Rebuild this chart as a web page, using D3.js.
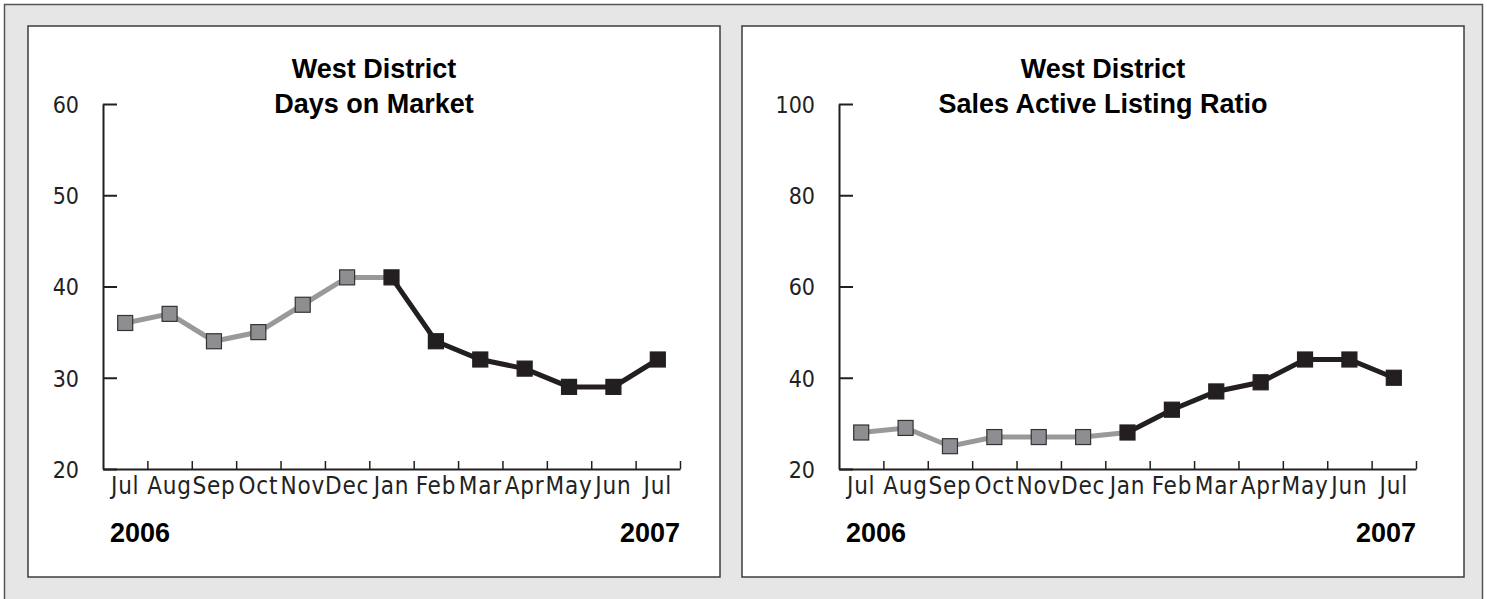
<!DOCTYPE html>
<html>
<head>
<meta charset="utf-8">
<script src="https://cdn.jsdelivr.net/npm/d3@7"></script>
<style>
  html, body { margin: 0; padding: 0; background: #ffffff; }
  svg { display: block; }
</style>
</head>
<body>
<svg id="chart" width="1487" height="599"></svg>
<script>
// ---- data ----
const months = ["Jul", "Aug", "Sep", "Oct", "Nov", "Dec", "Jan", "Feb", "Mar", "Apr", "May", "Jun", "Jul"];
const startYear = "2006";
const endYear = "2007";
const highlightStart = 6; // Jan 2007 onward drawn in black

const domTitle = ["West District", "Days on Market"];
const domValues = [36, 37, 34, 35, 38, 41, 41, 34, 32, 31, 29, 29, 32];
const domTicks = [20, 30, 40, 50, 60];

const salTitle = ["West District", "Sales Active Listing Ratio"];
const salValues = [28, 29, 25, 27, 27, 27, 28, 33, 37, 39, 44, 44, 40];
const salTicks = [20, 40, 60, 80, 100];

// ---- styling ----
const DARK = "#231f20";
const GREY_LINE = "#999999";
const GREY_FILL = "#8e8e92";
const LABEL_FONT = "'DejaVu Sans Condensed', 'DejaVu Sans', sans-serif";
const BOLD_FONT = "'Liberation Sans', Arial, sans-serif";

const svg = d3.select("#chart");

// outer frame
svg.append("rect")
  .attr("x", 4.5).attr("y", 4.5)
  .attr("width", 1478).attr("height", 600)
  .attr("fill", "#e6e6e6")
  .attr("stroke", "#555").attr("stroke-width", 1.5);

function drawPanel(panel) {
  const g = svg.append("g");
  // panel box
  g.append("rect")
    .attr("x", panel.px).attr("y", panel.py)
    .attr("width", panel.pw).attr("height", panel.ph)
    .attr("fill", "#ffffff")
    .attr("stroke", "#3c3c3c").attr("stroke-width", 1.5);

  const x0 = panel.ax, x1 = panel.ax + 577;
  const yTop = 104, yBot = 469;

  const idx = d3.range(panel.values.length);
  const x = d3.scaleBand().domain(idx).range([x0, x1]).padding(0);
  const xb = d3.scaleLinear().domain([0, idx.length]).range([x0, x1]);
  const y = d3.scaleLinear().domain([panel.ticks[0], panel.ticks[panel.ticks.length - 1]]).range([yBot, yTop]);

  // title
  const cx = panel.px + panel.pw / 2;
  g.append("text")
    .attr("x", cx).attr("y", 78)
    .attr("text-anchor", "middle")
    .attr("font-family", BOLD_FONT).attr("font-weight", "bold")
    .attr("font-size", 27).attr("fill", "#000")
    .text(panel.title[0]);
  g.append("text")
    .attr("x", cx).attr("y", 113)
    .attr("text-anchor", "middle")
    .attr("font-family", BOLD_FONT).attr("font-weight", "bold")
    .attr("font-size", 27).attr("fill", "#000")
    .text(panel.title[1]);

  // y axis
  const yAxis = d3.axisLeft(y).tickValues(panel.ticks).tickSizeInner(-14).tickSizeOuter(0).tickPadding(24);
  const ya = g.append("g").attr("transform", `translate(${x0},0)`).call(yAxis);
  ya.select(".domain").attr("stroke", DARK).attr("stroke-width", 2);
  ya.selectAll(".tick line").attr("stroke", DARK).attr("stroke-width", 2);
  ya.selectAll(".tick text")
    .attr("font-family", LABEL_FONT).attr("font-size", 23).attr("fill", "#222")
    .attr("dy", "0.36em");

  // x axis: boundary ticks
  const xAxis = d3.axisBottom(xb).tickValues(d3.range(1, idx.length + 1)).tickSizeInner(-8).tickSizeOuter(0).tickFormat("");
  const xa = g.append("g").attr("transform", `translate(0,${yBot})`).call(xAxis);
  xa.select(".domain").attr("stroke", DARK).attr("stroke-width", 2);
  xa.selectAll(".tick line").attr("stroke", DARK).attr("stroke-width", 1.5);

  // month labels
  const xl = d3.axisBottom(x).tickSize(0).tickPadding(0).tickFormat(i => months[i]);
  const xla = g.append("g").attr("transform", `translate(0,${yBot})`).call(xl);
  xla.select(".domain").remove();
  xla.selectAll(".tick text")
    .attr("font-family", LABEL_FONT).attr("font-size", 24).attr("fill", "#222")
    .attr("letter-spacing", "0.8px")
    .attr("dy", null).attr("y", 25);

  // years
  g.append("text")
    .attr("x", x0 + 7).attr("y", 542)
    .attr("font-family", BOLD_FONT).attr("font-weight", "bold")
    .attr("font-size", 27).attr("fill", "#000")
    .text(startYear);
  g.append("text")
    .attr("x", x1).attr("y", 542)
    .attr("text-anchor", "end")
    .attr("font-family", BOLD_FONT).attr("font-weight", "bold")
    .attr("font-size", 27).attr("fill", "#000")
    .text(endYear);

  const line = d3.line()
    .x(i => x(i) + x.bandwidth() / 2)
    .y(i => y(panel.values[i]));

  const greyIdx = idx.filter(i => i <= highlightStart);
  const darkIdx = idx.filter(i => i >= highlightStart);

  g.append("path").datum(greyIdx).attr("d", line)
    .attr("fill", "none").attr("stroke", GREY_LINE).attr("stroke-width", 5)
    .attr("stroke-linejoin", "miter");
  g.append("path").datum(darkIdx).attr("d", line)
    .attr("fill", "none").attr("stroke", DARK).attr("stroke-width", 5)
    .attr("stroke-linejoin", "miter");

  const s = 15;
  g.selectAll("rect.mk").data(idx).enter().append("rect")
    .attr("class", "mk")
    .attr("x", i => x(i) + x.bandwidth() / 2 - s / 2)
    .attr("y", i => y(panel.values[i]) - s / 2)
    .attr("width", s).attr("height", s)
    .attr("fill", i => i < highlightStart ? GREY_FILL : DARK)
    .attr("stroke", i => i < highlightStart ? "#333" : DARK)
    .attr("stroke-width", 1.2);
}

drawPanel({ px: 28, py: 26, pw: 692, ph: 551, ax: 103, title: domTitle, values: domValues, ticks: domTicks });
drawPanel({ px: 742, py: 26, pw: 722, ph: 551, ax: 839, title: salTitle, values: salValues, ticks: salTicks });
</script>
</body>
</html>
